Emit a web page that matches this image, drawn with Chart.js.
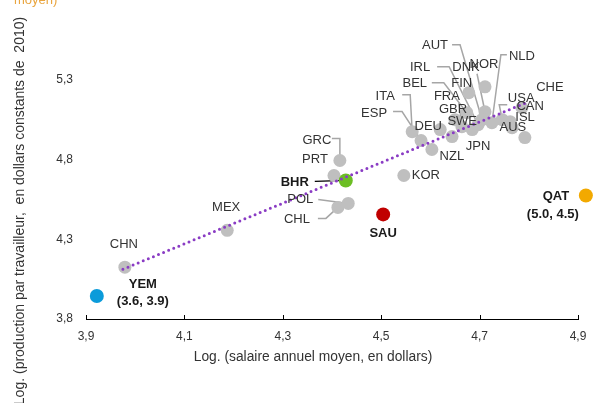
<!DOCTYPE html>
<html lang="fr">
<head>
<meta charset="UTF-8">
<title>Productivité et salaire moyen</title>
<script src="https://cdn.jsdelivr.net/npm/chart.js"></script>
<style>
    html, body { margin: 0; padding: 0; background: #fff; }
    .wrap { width: 597px; height: 403px; position: relative; }
</style>
</head>
<body>
<div class="wrap"><canvas id="scatter" width="597" height="403"></canvas></div>
<script>
// data
var countries = ['ITA', 'ESP', 'NZL', 'DEU', 'JPN', 'GBR', 'FRA', 'SWE', 'BEL', 'IRL', 'FIN', 'DNK', 'NOR', 'AUT', 'NLD', 'USA', 'CAN', 'CHE', 'ISL', 'AUS',
                 'KOR', 'GRC', 'PRT', 'POL', 'CHL', 'MEX', 'CHN', 'SAU', 'QAT', 'YEM', 'BHR'];
var salaire = [4.563, 4.581, 4.603, 4.620, 4.644, 4.650, 4.664, 4.685, 4.674, 4.697, 4.678, 4.711, 4.711, 4.705, 4.725, 4.746, 4.762, 4.786, 4.766, 4.792,
               4.546, 4.416, 4.404, 4.433, 4.412, 4.187, 3.979, 4.504, 4.916, 3.922, 4.428];
var production = [4.975, 4.919, 4.863, 4.988, 4.944, 5.050, 5.006, 4.988, 5.094, 5.019, 5.219, 5.100, 5.256, 5.050, 5.031, 5.050, 5.038, 5.125, 5.000, 4.938,
                  4.700, 4.794, 4.700, 4.525, 4.500, 4.356, 4.125, 4.456, 4.575, 3.944, 4.669];
var trendX = [3.975, 4.794];
var trendY = [4.112, 5.156];
var xTicks = [3.9, 4.1, 4.3, 4.5, 4.7, 4.9];
var yTicks = [3.8, 4.3, 4.8, 5.3];
var highlight = { YEM: '#0B9BDA', BHR: '#6CBE24', SAU: '#C00000', QAT: '#F2A900' };
var coordLabels = { YEM: '(3.6, 3.9)', QAT: '(5.0, 4.5)' };

// label placement, pixel offsets from the point
var labelPos = {
    ITA: { dx: -27, dy: -35, leader: [[-10, -37], [-2, -37]] },
    ESP: { dx: -47, dy: -27, leader: [[-28, -29], [-19, -29]] },
    NZL: { dx: 20, dy: 7 },
    DEU: { dx: -12, dy: -3 },
    JPN: { dx: 26, dy: 10 },
    GBR: { dx: -2, dy: -10 },
    FRA: { dx: -15, dy: -30, leader: [[-3, -24]] },
    SWE: { dx: -10, dy: -8 },
    BEL: { dx: -52, dy: -29, leader: [[-35, -30], [-23, -30]] },
    IRL: { dx: -58, dy: -57, leader: [[-41, -58], [-29, -58]] },
    FIN: { dx: -7, dy: -9 },
    DNK: { dx: -19, dy: -44, leader: [[-8, -38]] },
    NOR: { dx: -1, dy: -22 },
    AUT: { dx: -47, dy: -74, leader: [[-30, -75], [-22, -75]] },
    NLD: { dx: 30, dy: -66, leader: [[15, -68], [9, -68]] },
    USA: { dx: 19, dy: -21, leader: [[5, -15], [-3, -15]] },
    CAN: { dx: 20, dy: -15 },
    CHE: { dx: 28, dy: -20 },
    ISL: { dx: 13, dy: -10 },
    AUS: { dx: -12, dy: -10 },
    KOR: { dx: 22, dy: 0 },
    GRC: { dx: -23, dy: -20, leader: [[-8, -22], [0, -22]] },
    PRT: { dx: -19, dy: -16 },
    POL: { dx: -48, dy: -4, leader: [[-30, -4]] },
    CHL: { dx: -41, dy: 12, leader: [[-20, 11], [-12, 11]] },
    MEX: { dx: -1, dy: -23 },
    CHN: { dx: -1, dy: -23 },
    SAU: { dx: 0, dy: 19, bold: true },
    QAT: { dx: -30, dy: 1, bold: true, subDx: -33, subDy: 19 },
    YEM: { dx: 46, dy: -12, bold: true, subDx: 46, subDy: 5 },
    BHR: { dx: -51, dy: 2, bold: true, leader: [[-31, 1]], leaderColor: '#000' }
};

var FONT = '"Liberation Sans", Arial, sans-serif';
var TEXT = '#333333';
var GREY = '#BFBFBF';
var X_END = 4.9;   // where the drawn axis stops

var points = countries.map(function (c, i) {
    return { x: salaire[i], y: production[i] };
});

function fmt(v) {
    return v.toFixed(1).replace('.', ',');
}

var labelsPlugin = {
    id: 'labels',
    beforeDatasetsDraw: function (chart) {
        var ctx = chart.ctx;
        var meta = chart.getDatasetMeta(1);
        ctx.save();
        countries.forEach(function (c, i) {
            var lp = labelPos[c];
            if (!lp || !lp.leader) return;
            var el = meta.data[i];
            ctx.strokeStyle = lp.leaderColor || '#A6A6A6';
            ctx.lineWidth = lp.leaderColor ? 1.2 : 1.5;
            ctx.beginPath();
            ctx.moveTo(el.x + lp.leader[0][0], el.y + lp.leader[0][1]);
            for (var k = 1; k < lp.leader.length; k++) {
                ctx.lineTo(el.x + lp.leader[k][0], el.y + lp.leader[k][1]);
            }
            ctx.lineTo(el.x, el.y);
            ctx.stroke();
        });
        ctx.restore();
    },
    afterDatasetsDraw: function (chart) {
        var ctx = chart.ctx;
        var meta = chart.getDatasetMeta(1);
        ctx.save();
        ctx.textAlign = 'center';
        ctx.textBaseline = 'middle';
        countries.forEach(function (c, i) {
            var lp = labelPos[c];
            var el = meta.data[i];
            ctx.fillStyle = lp.bold ? '#1a1a1a' : TEXT;
            ctx.font = (lp.bold ? 'bold ' : '') + '13px ' + FONT;
            ctx.fillText(c, el.x + lp.dx, el.y + lp.dy);
            if (coordLabels[c]) {
                ctx.fillText(coordLabels[c], el.x + lp.subDx, el.y + lp.subDy);
            }
        });
        ctx.restore();
    },
    afterDraw: function (chart) {
        var ctx = chart.ctx;
        var area = chart.chartArea;
        var xs = chart.scales.x;
        ctx.save();
        // x axis line with inside ticks
        ctx.strokeStyle = '#000';
        ctx.lineWidth = 1;
        ctx.beginPath();
        ctx.moveTo(area.left, area.bottom + 0.5);
        ctx.lineTo(Math.round(xs.getPixelForValue(X_END)) + 1, area.bottom + 0.5);
        xTicks.forEach(function (t) {
            var px = Math.round(xs.getPixelForValue(t)) + 0.5;
            ctx.moveTo(px, area.bottom);
            ctx.lineTo(px, area.bottom - 4);
        });
        ctx.stroke();

        // x tick labels
        ctx.fillStyle = TEXT;
        ctx.font = '12px ' + FONT;
        ctx.textAlign = 'center';
        ctx.textBaseline = 'middle';
        xTicks.forEach(function (t) {
            ctx.fillText(fmt(t), xs.getPixelForValue(t), area.bottom + 18);
        });

        ctx.font = '13.8px ' + FONT;
        ctx.fillText('Log. (salaire annuel moyen, en dollars)', 313, 357);

        ctx.font = '14px ' + FONT;
        ctx.translate(20, 211);
        ctx.rotate(-Math.PI / 2);
        ctx.fillText('Log. (production par travailleur,  en dollars constants de  2010)', 0, 0);
        ctx.restore();

        // cut-off title remnant at the top
        ctx.save();
        ctx.fillStyle = '#E9A53F';
        ctx.font = '13px ' + FONT;
        ctx.textAlign = 'left';
        ctx.textBaseline = 'alphabetic';
        ctx.fillText('moyen)', 14, 4);
        ctx.restore();
    }
};

new Chart(document.getElementById('scatter'), {
    type: 'scatter',
    data: {
        datasets: [
            {
                type: 'line',
                data: trendX.map(function (x, i) { return { x: x, y: trendY[i] }; }),
                borderColor: '#8A3CC4',
                borderWidth: 3,
                borderDash: [0, 5.5],
                borderCapStyle: 'round',
                pointRadius: 0,
                fill: false,
                order: 0
            },
            {
                data: points,
                pointBackgroundColor: countries.map(function (c) { return highlight[c] || GREY; }),
                pointBorderWidth: 0,
                pointRadius: countries.map(function (c) { return highlight[c] ? 7 : 6.5; }),
                clip: false,
                order: 1
            }
        ]
    },
    options: {
        responsive: false,
        animation: false,
        events: [],
        layout: { autoPadding: false, padding: { left: 0, right: 4.24, top: 40, bottom: 0 } },
        plugins: {
            legend: { display: false },
            tooltip: { enabled: false }
        },
        scales: {
            x: {
                type: 'linear',
                min: 3.9,
                max: 4.93,
                afterBuildTicks: function (s) { s.ticks = xTicks.map(function (v) { return { value: v }; }); },
                afterFit: function (s) { s.height = 84; },
                grid: { display: false, drawTicks: false },
                border: { display: false },
                ticks: { display: false }
            },
            y: {
                type: 'linear',
                min: 3.8,
                max: 5.55,
                afterBuildTicks: function (s) { s.ticks = yTicks.map(function (v) { return { value: v }; }); },
                afterFit: function (s) { s.width = 86; },
                grid: { display: false, drawTicks: false },
                border: { display: false },
                ticks: {
                    padding: 13,
                    color: TEXT,
                    font: { family: FONT, size: 12 },
                    callback: function (v) { return fmt(v); }
                }
            }
        }
    },
    plugins: [labelsPlugin]
});
</script>
</body>
</html>
